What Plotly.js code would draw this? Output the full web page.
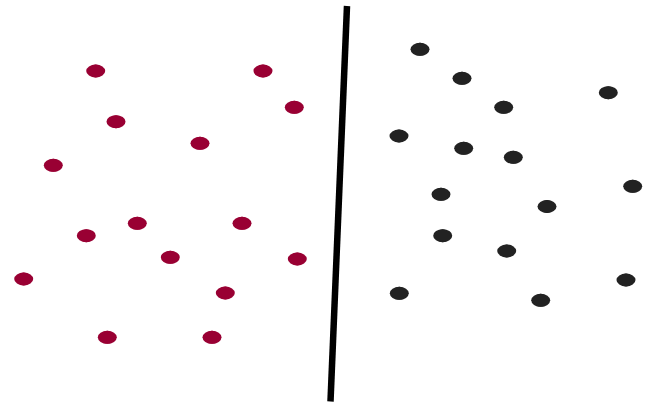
<!DOCTYPE html>
<html>
<head>
<meta charset="utf-8">
<script src="https://cdn.plot.ly/plotly-3.0.1.min.js"></script>
<style>html,body{margin:0;padding:0;background:#fff;}#chart{width:658px;height:411px;}</style>
</head>
<body>
<div id="chart"></div>
<script>
// Group A (red, left of the divider)
const redX = [95.7, 263, 294.3, 116, 200, 53.3, 137.3, 242, 86.3, 170.3, 297.3, 23.7, 225.3, 107.3, 212];
const redY = [71, 71, 107.3, 121.7, 143.3, 165.3, 223.3, 223.3, 235.7, 257.3, 259, 279, 293, 337.3, 337.3];
// Group B (dark, right of the divider)
const darkX = [420, 462, 503.7, 608.3, 399, 463.7, 513.3, 441, 632.7, 547, 442.7, 506.7, 626, 399.3, 540.7];
const darkY = [49.3, 78.3, 107.3, 92.7, 136, 148.3, 157.3, 194.3, 186.3, 206.5, 235.7, 251, 280, 293.3, 300.3];
// Divider line
const lineX = [347, 330.5];
const lineY = [6, 401.5];

const RED = '#990033';
const DARK = '#222222';

function ellipses(xs, ys, color) {
  return xs.map((x, i) => ({
    type: 'circle', xref: 'x', yref: 'y',
    xsizemode: 'pixel', ysizemode: 'pixel',
    xanchor: x, yanchor: ys[i],
    x0: -9.5, x1: 9.5, y0: -6.5, y1: 6.5,
    fillcolor: color, line: {width: 0}, layer: 'above'
  }));
}

const traces = [
  {x: lineX, y: lineY, mode: 'lines', line: {color: '#000000', width: 6.5}, hoverinfo: 'skip', showlegend: false},
  {x: redX, y: redY, mode: 'markers', marker: {color: RED, size: 13, line: {width: 0}}, showlegend: false},
  {x: darkX, y: darkY, mode: 'markers', marker: {color: DARK, size: 13, line: {width: 0}}, showlegend: false}
];

const layout = {
  width: 658, height: 411,
  margin: {l: 0, r: 0, t: 0, b: 0},
  paper_bgcolor: '#ffffff', plot_bgcolor: '#ffffff',
  xaxis: {range: [0, 658], visible: false, fixedrange: true},
  yaxis: {range: [411, 0], visible: false, fixedrange: true},
  shapes: ellipses(redX, redY, RED).concat(ellipses(darkX, darkY, DARK)),
  showlegend: false
};

Plotly.newPlot('chart', traces, layout, {displayModeBar: false, staticPlot: true});
</script>
</body>
</html>
